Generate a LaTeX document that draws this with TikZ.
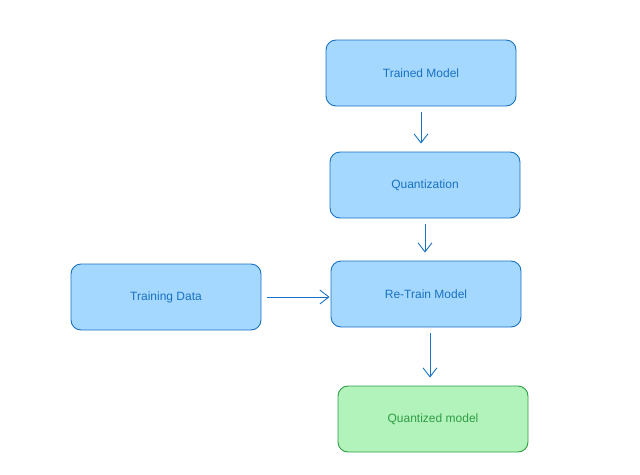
\documentclass[tikz,border=0pt]{standalone}
\usepackage{fontspec}
\setmainfont{Liberation Sans}
\usetikzlibrary{arrows.meta}
\definecolor{bfill}{HTML}{A5D8FF}
\definecolor{bline}{HTML}{1971C2}
\definecolor{gfill}{HTML}{B2F2BB}
\definecolor{gline}{HTML}{2F9E44}
\tikzset{
  box/.style={draw=bline, fill=bfill, line width=0.9pt, rounded corners=10pt,
    minimum width=190pt, minimum height=66pt, text=bline, font=\fontsize{12}{14}\selectfont},
  gbox/.style={box, draw=gline, fill=gfill, text=gline},
  conn/.style={draw=bline, line width=0.9pt, -{Straight Barb[length=9pt,width=14pt,line width=0.9pt]},
    shorten <=6pt, shorten >=8pt},
}
\begin{document}
\begin{tikzpicture}[x=1pt,y=-1pt]
\useasboundingbox (0,0) rectangle (640,474);
\node[box] (tm) at (421,73) {Trained Model};
\node[box] (qz) at (425,185) {Quantization};
\node[box] (rt) at (426,294) {Re-Train Model};
\node[box] (td) at (166,297) {Training Data};
\node[gbox] (qm) at (433,419) {Quantized model};
\draw[conn] (tm.south) -- (tm.south |- qz.north);
\draw[conn] (qz.south) -- (qz.south |- rt.north);
\draw[conn, shorten >=1pt] (td.east) -- (rt.west |- td.east);
\draw[conn] (rt.south) ++(4,0) coordinate (rs) -- (rs |- qm.north);
\end{tikzpicture}
\end{document}
